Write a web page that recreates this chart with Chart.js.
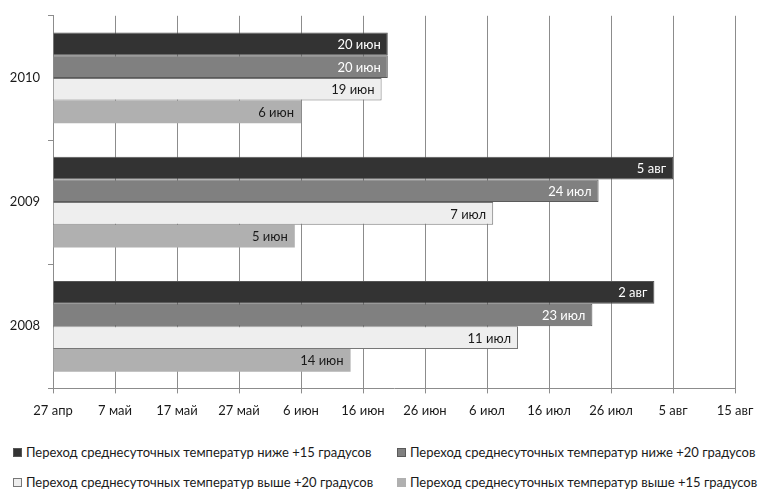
<!DOCTYPE html>
<html lang="ru">
<head>
<meta charset="utf-8">
<script src="https://cdn.jsdelivr.net/npm/chart.js@4"></script>
<style>
  html, body { margin: 0; padding: 0; background: #fff; }
  #wrap { width: 760px; height: 490px; position: relative; }
  #grafica { display: block; }
  #leyenda {
    position: absolute; left: 0; top: 444px; width: 760px;
    font: 13px Lato, "Liberation Sans", sans-serif; color: #1a1a1a;
  }
  .item { position: absolute; height: 16px; line-height: 16px; white-space: nowrap; }
  .caja { display: inline-block; width: 9px; height: 9px; box-sizing: border-box; margin-right: 4px; vertical-align: 0px; }
</style>
</head>
<body>
<div id="wrap">
  <canvas id="grafica" width="760" height="432"></canvas>
  <div id="leyenda"></div>
</div>
<script>
// годы (сверху вниз)
const years = ['2010', '2009', '2008'];

// дни от 27 апреля
const nizhe15 = [54, 100, 97];
const nizhe20 = [54, 88, 87];
const vyshe20 = [53, 71, 75];
const vyshe15 = [40, 39, 48];

const seriesNames = [
  'Переход среднесуточных температур ниже +15 градусов',
  'Переход среднесуточных температур ниже +20 градусов',
  'Переход среднесуточных температур выше +20 градусов',
  'Переход среднесуточных температур выше +15 градусов'
];

const tickLabels = ['27 апр', '7 май', '17 май', '27 май', '6 июн', '16 июн',
  '26 июн', '6 июл', '16 июл', '26 июл', '5 авг', '15 авг'];

const meses = ['янв', 'фев', 'мар', 'апр', 'май', 'июн', 'июл', 'авг', 'сен', 'окт', 'ноя', 'дек'];

function fechaTexto(dias) {
  const d = new Date(2010, 3, 27 + dias);
  return d.getDate() + ' ' + meses[d.getMonth()];
}

const FONT = 'Lato, "Liberation Sans", sans-serif';

// подписи значений внутри конца полосы
const etiquetas = {
  id: 'etiquetas',
  afterDatasetsDraw(chart) {
    const ctx = chart.ctx;
    ctx.save();
    ctx.font = '13px ' + FONT;
    ctx.textAlign = 'right';
    ctx.textBaseline = 'middle';
    chart.data.datasets.forEach((ds, i) => {
      const meta = chart.getDatasetMeta(i);
      meta.data.forEach((bar, j) => {
        ctx.fillStyle = ds.labelColor;
        ctx.fillText(fechaTexto(ds.data[j]), bar.x - 7, bar.y + 1);
      });
    });
    ctx.restore();
  }
};

const datasets = [
  { label: seriesNames[0], data: nizhe15, backgroundColor: '#333333', borderColor: '#555555', borderWidth: 1, labelColor: '#ffffff' },
  { label: seriesNames[1], data: nizhe20, backgroundColor: '#808080', borderColor: '#5a5a5a', borderWidth: 1, labelColor: '#ffffff' },
  { label: seriesNames[2], data: vyshe20, backgroundColor: '#eeeeee', borderColor: '#777777', borderWidth: 1, labelColor: '#1a1a1a' },
  { label: seriesNames[3], data: vyshe15, backgroundColor: '#b0b0b0', borderColor: '#b0b0b0', borderWidth: 0, labelColor: '#1a1a1a' }
];

const ctx = document.getElementById('grafica').getContext('2d');
const chart = new Chart(ctx, {
  type: 'bar',
  data: { labels: years, datasets: datasets },
  options: {
    indexAxis: 'y',
    responsive: false,
    animation: false,
    layout: { padding: { left: 0, right: 25, top: 13, bottom: 3 } },
    datasets: { bar: { categoryPercentage: 0.73, barPercentage: 1.0 } },
    scales: {
      x: {
        min: 0,
        max: 110,
        afterBuildTicks(scale) {
          scale.ticks = tickLabels.map((t, i) => ({ value: i * 10 }));
        },
        afterFit(scale) {
          scale.paddingLeft = 0;
          scale.paddingRight = 0;
        },
        ticks: {
          color: '#1a1a1a',
          font: { family: FONT, size: 13 },
          padding: 10,
          maxRotation: 0,
          autoSkip: false,
          callback: (v, i) => tickLabels[i]
        },
        grid: { color: '#8c8c8c', lineWidth: 1, tickLength: 5, tickColor: '#8c8c8c' },
        border: { color: '#8c8c8c' }
      },
      y: {
        afterFit(scale) { scale.width = 53; },
        ticks: {
          color: '#1a1a1a',
          font: { family: FONT, size: 13 },
          padding: 8
        },
        grid: { offset: true, drawOnChartArea: false, tickLength: 5, color: '#8c8c8c' },
        border: { color: '#8c8c8c' }
      }
    },
    plugins: {
      tooltip: { enabled: false },
      legend: { display: false }
    }
  },
  plugins: [etiquetas]
});

// легенда: две колонки, два ряда
const posiciones = [[13, 0], [397, 0], [13, 30], [397, 30]];
const leyenda = document.getElementById('leyenda');
datasets.forEach((ds, i) => {
  const item = document.createElement('div');
  item.className = 'item';
  item.style.left = posiciones[i][0] + 'px';
  item.style.top = posiciones[i][1] + 'px';
  const caja = document.createElement('span');
  caja.className = 'caja';
  caja.style.background = ds.backgroundColor;
  caja.style.border = ds.borderWidth ? '1px solid ' + ds.borderColor : 'none';
  item.appendChild(caja);
  item.appendChild(document.createTextNode(ds.label));
  leyenda.appendChild(item);
});
</script>
</body>
</html>
